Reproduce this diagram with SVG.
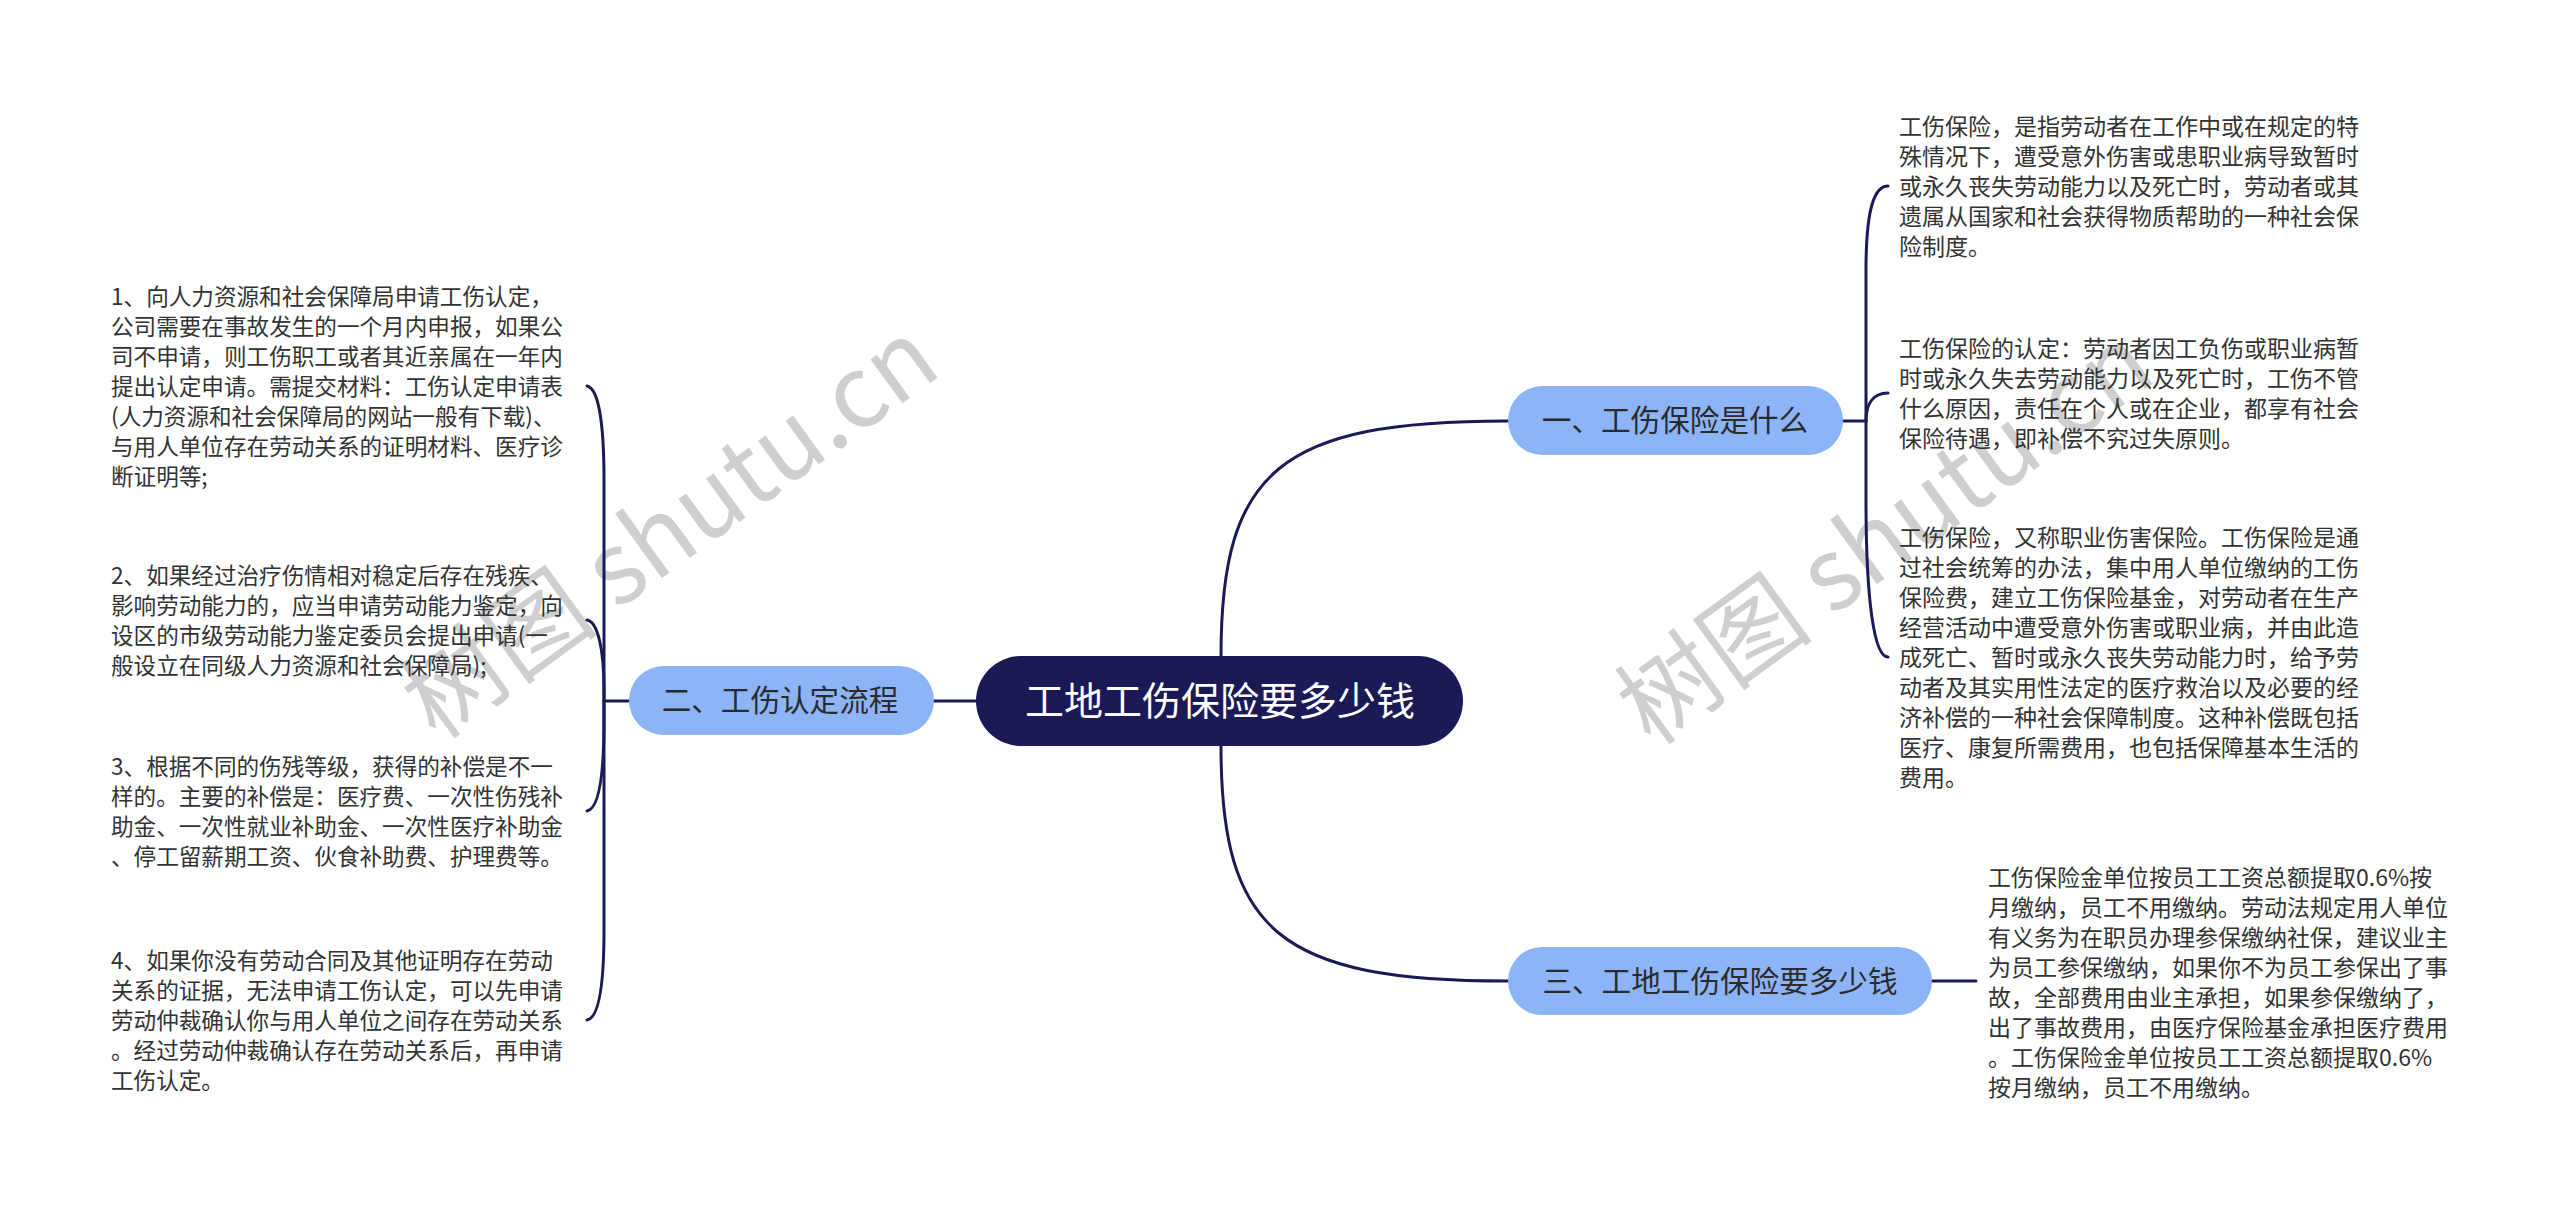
<svg xmlns="http://www.w3.org/2000/svg" width="2560" height="1211" viewBox="0 0 2560 1211">
<style>
.wm{font-family:"Noto Sans CJK SC","Noto Sans",sans-serif;font-size:100px;fill:#cfcfcf;}
.conn{fill:none;stroke:#1c1a56;stroke-width:3;stroke-linecap:round;}
.body{font-family:"Noto Sans CJK SC",sans-serif;fill:#333333;}
.l{font-size:22.6px;}
.r{font-size:23px;}
.sub rect{fill:#8cb4f7;}
.sub text{font-family:"Noto Sans CJK SC",sans-serif;font-size:29.6px;fill:#2b2b2b;text-anchor:middle;}
.root rect{fill:#1c1a56;}
.root text{font-family:"Noto Sans CJK SC",sans-serif;font-size:39px;fill:#ffffff;text-anchor:middle;}
</style>
<rect width="2560" height="1211" fill="#ffffff"/>
<g id="watermarks">
<text class="wm" text-anchor="middle" dominant-baseline="central" transform="translate(665,522) rotate(-36)">树图 shutu.cn</text>
<text class="wm" text-anchor="middle" dominant-baseline="central" transform="translate(1880,528) rotate(-36)">树图 shutu.cn</text>
</g>
<g id="connectors">
<path class="conn" d="M1221 701 V656 C1221 470 1280 421 1508 421"/>
<path class="conn" d="M1221 701 V746 C1221 932 1280 981 1508 981"/>
<path class="conn" d="M976 701 H934"/>
<path class="conn" d="M629 701 H604"/>
<path class="conn" d="M604 701 V480 C604 420 598 388 587 386"/>
<path class="conn" d="M604 701 V690 C604 650 598 622 587 620"/>
<path class="conn" d="M604 701 V720 C604 780 598 809 587 811"/>
<path class="conn" d="M604 701 V930 C604 990 598 1018 587 1020"/>
<path class="conn" d="M1843 421 H1866"/>
<path class="conn" d="M1866 421 V270 C1866 210 1874 186 1888 186"/>
<path class="conn" d="M1866 421 C1866 405 1872 393 1888 393"/>
<path class="conn" d="M1866 421 V500 C1866 600 1874 657 1888 657"/>
<path class="conn" d="M1932 981 H1976"/>
</g>
<g id="root" class="root">
<rect x="976" y="656" width="487" height="90" rx="45"/>
<text x="1220" y="715">工地工伤保险要多少钱</text>
</g>
<g id="n1" class="sub">
<rect x="1508" y="386" width="335" height="69" rx="34.5"/>
<text x="1675" y="431">一、工伤保险是什么</text>
</g>
<g id="n2" class="sub">
<rect x="629" y="666" width="305" height="69" rx="34.5"/>
<text x="780" y="711">二、工伤认定流程</text>
</g>
<g id="n3" class="sub">
<rect x="1508" y="947" width="424" height="68" rx="34"/>
<text x="1720" y="992">三、工地工伤保险要多少钱</text>
</g>
<g id="t1" class="body l">
<text x="111" y="304.5">1、向人力资源和社会保障局申请工伤认定，</text>
<text x="111" y="334.5">公司需要在事故发生的一个月内申报，如果公</text>
<text x="111" y="364.5">司不申请，则工伤职工或者其近亲属在一年内</text>
<text x="111" y="394.5">提出认定申请。需提交材料：工伤认定申请表</text>
<text x="111" y="424.5">(人力资源和社会保障局的网站一般有下载)、</text>
<text x="111" y="454.5">与用人单位存在劳动关系的证明材料、医疗诊</text>
<text x="111" y="484.5">断证明等;</text>
</g>
<g id="t2" class="body l">
<text x="111" y="583.5">2、如果经过治疗伤情相对稳定后存在残疾、</text>
<text x="111" y="613.5">影响劳动能力的，应当申请劳动能力鉴定，向</text>
<text x="111" y="643.5">设区的市级劳动能力鉴定委员会提出申请(一</text>
<text x="111" y="673.5">般设立在同级人力资源和社会保障局);</text>
</g>
<g id="t3" class="body l">
<text x="111" y="774.5">3、根据不同的伤残等级，获得的补偿是不一</text>
<text x="111" y="804.5">样的。主要的补偿是：医疗费、一次性伤残补</text>
<text x="111" y="834.5">助金、一次性就业补助金、一次性医疗补助金</text>
<text x="111" y="864.5">、停工留薪期工资、伙食补助费、护理费等。</text>
</g>
<g id="t4" class="body l">
<text x="111" y="968.5">4、如果你没有劳动合同及其他证明存在劳动</text>
<text x="111" y="998.5">关系的证据，无法申请工伤认定，可以先申请</text>
<text x="111" y="1028.5">劳动仲裁确认你与用人单位之间存在劳动关系</text>
<text x="111" y="1058.5">。经过劳动仲裁确认存在劳动关系后，再申请</text>
<text x="111" y="1088.5">工伤认定。</text>
</g>
<g id="tA" class="body r">
<text x="1899" y="134.5">工伤保险，是指劳动者在工作中或在规定的特</text>
<text x="1899" y="164.5">殊情况下，遭受意外伤害或患职业病导致暂时</text>
<text x="1899" y="194.5">或永久丧失劳动能力以及死亡时，劳动者或其</text>
<text x="1899" y="224.5">遗属从国家和社会获得物质帮助的一种社会保</text>
<text x="1899" y="254.5">险制度。</text>
</g>
<g id="tB" class="body r">
<text x="1899" y="356.5">工伤保险的认定：劳动者因工负伤或职业病暂</text>
<text x="1899" y="386.5">时或永久失去劳动能力以及死亡时，工伤不管</text>
<text x="1899" y="416.5">什么原因，责任在个人或在企业，都享有社会</text>
<text x="1899" y="446.5">保险待遇，即补偿不究过失原则。</text>
</g>
<g id="tC" class="body r">
<text x="1899" y="545.5">工伤保险，又称职业伤害保险。工伤保险是通</text>
<text x="1899" y="575.5">过社会统筹的办法，集中用人单位缴纳的工伤</text>
<text x="1899" y="605.5">保险费，建立工伤保险基金，对劳动者在生产</text>
<text x="1899" y="635.5">经营活动中遭受意外伤害或职业病，并由此造</text>
<text x="1899" y="665.5">成死亡、暂时或永久丧失劳动能力时，给予劳</text>
<text x="1899" y="695.5">动者及其实用性法定的医疗救治以及必要的经</text>
<text x="1899" y="725.5">济补偿的一种社会保障制度。这种补偿既包括</text>
<text x="1899" y="755.5">医疗、康复所需费用，也包括保障基本生活的</text>
<text x="1899" y="785.5">费用。</text>
</g>
<g id="tD" class="body r">
<text x="1988" y="885.5">工伤保险金单位按员工工资总额提取0.6%按</text>
<text x="1988" y="915.5">月缴纳，员工不用缴纳。劳动法规定用人单位</text>
<text x="1988" y="945.5">有义务为在职员办理参保缴纳社保，建议业主</text>
<text x="1988" y="975.5">为员工参保缴纳，如果你不为员工参保出了事</text>
<text x="1988" y="1005.5">故，全部费用由业主承担，如果参保缴纳了，</text>
<text x="1988" y="1035.5">出了事故费用，由医疗保险基金承担医疗费用</text>
<text x="1988" y="1065.5">。工伤保险金单位按员工工资总额提取0.6%</text>
<text x="1988" y="1095.5">按月缴纳，员工不用缴纳。</text>
</g>
</svg>
